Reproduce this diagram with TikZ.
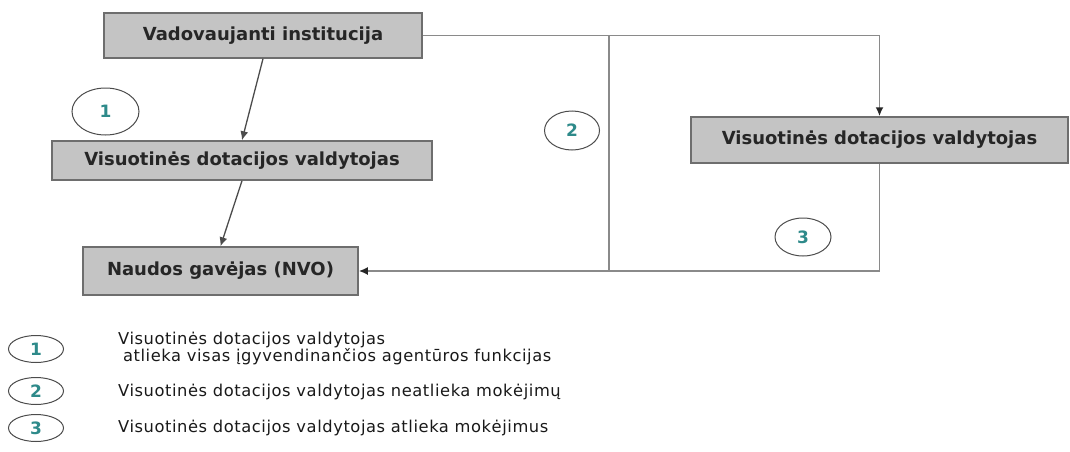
\documentclass[tikz,border=0pt]{standalone}
\usepackage{fontspec}
\setmainfont{DejaVu Sans}
\newfontfamily\legfont[LetterSpace=3.5]{DejaVu Sans}
\usetikzlibrary{arrows.meta,shapes.geometric}
\definecolor{boxfill}{HTML}{C4C4C4}
\definecolor{boxline}{HTML}{6E6E6E}
\definecolor{conncol}{HTML}{8A8A8A}
\definecolor{numcol}{HTML}{2E8A8A}
\begin{document}
\begin{tikzpicture}[x=1pt,y=-1pt,
  box/.style={draw=boxline, line width=1.5pt, fill=boxfill, rectangle, inner sep=0pt,
    font=\fontsize{18}{20}\selectfont\bfseries, text=black!85},
  numell/.style={ellipse, draw=black!70, line width=1pt, inner sep=0pt,
    font=\fontsize{17}{18}\selectfont\bfseries, text=numcol},
  conn/.style={draw=conncol, line width=1.9pt},
  arr/.style={conn, -{Latex[length=9pt,width=8pt,color=black!85]}},
  thinarr/.style={draw=black!70, line width=1.3pt, -{Latex[length=9pt,width=8pt]}},
  legtext/.style={anchor=west, font=\legfont\fontsize{16.3}{17}\selectfont, text=black!90,
    inner sep=0pt, align=left}
]
\useasboundingbox (0,0) rectangle (1070,452);

% boxes
\node[box, minimum width=318pt, minimum height=45pt] (inst) at (263,35.5) {Vadovaujanti institucija};
\node[box, minimum width=380pt, minimum height=39pt] (vdl) at (242,160.5) {Visuotinės dotacijos valdytojas\hspace{16pt}};
\node[box, minimum width=275pt, minimum height=48pt] (nvo) at (220.5,271) {Naudos gavėjas (NVO)\hspace{17pt}};
\node[box, minimum width=377pt, minimum height=46pt] (vdr) at (879.5,140) {Visuotinės dotacijos valdytojas\hspace{12pt}};

% numbered ellipses
\node[numell, minimum width=67pt, minimum height=47pt] (e1) at (105.5,111.5) {1};
\node[numell, minimum width=55pt, minimum height=39pt] (e2) at (572,130.5) {2};
\node[numell, minimum width=56pt, minimum height=38pt] (e3) at (803,237) {3};

% junctions
\coordinate (j1) at (609,35.5);
\coordinate (j3) at (609,271);

% connectors
\draw[thinarr] (inst.south) -- (vdl.north);
\draw[thinarr] (vdl.south) -- (nvo.north);
\draw[arr] (inst.east) -- (inst.east -| vdr.north) -- (vdr.north);
\draw[conn] (j1) -- (j3);
\draw[arr] (vdr.south) -- (vdr.south |- nvo.east) -- (nvo.east);

% legend
\node[numell, minimum width=55pt, minimum height=27pt] (l1) at (36,349) {1};
\node[numell, minimum width=55pt, minimum height=27pt] (l2) at (36,391) {2};
\node[numell, minimum width=55pt, minimum height=27pt] (l3) at (36,428) {3};
\node[legtext] (t1) at (118,348) {Visuotinės dotacijos valdytojas\\\hspace*{0.3em}atlieka visas įgyvendinančios agentūros funkcijas};
\node[legtext] (t2) at (118,392) {Visuotinės dotacijos valdytojas neatlieka mokėjimų};
\node[legtext] (t3) at (118,428) {Visuotinės dotacijos valdytojas atlieka mokėjimus};
\end{tikzpicture}
\end{document}
